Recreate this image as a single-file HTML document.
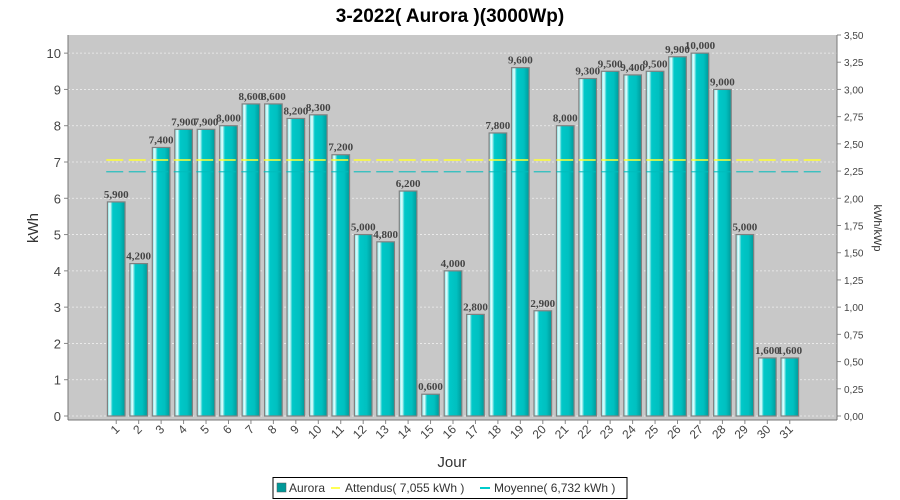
<!DOCTYPE html>
<html><head><meta charset="utf-8"><style>
body{margin:0;background:#fff;font-family:"Liberation Sans","DejaVu Sans",sans-serif}
svg{display:block}
</style></head><body>
<svg id="chart" width="900" height="500" xmlns="http://www.w3.org/2000/svg">
<defs>
<linearGradient id="bg" x1="0" x2="1" y1="0" y2="0">
<stop offset="0" stop-color="#7fe6e6"/><stop offset="0.15" stop-color="#e8ffff"/><stop offset="0.3" stop-color="#00c8c8"/><stop offset="0.7" stop-color="#00c0c0"/><stop offset="1" stop-color="#009a9a"/>
</linearGradient>
</defs>
<text x="450" y="22" text-anchor="middle" font-size="19" font-weight="bold" fill="#000">3-2022( Aurora )(3000Wp)</text>
<rect x="68" y="35" width="769" height="385" fill="#c8c8c8"/>
<g id="grid"></g>
<g id="bars"></g>
<g id="lines"></g>
<g id="axes"></g>
<text transform="translate(38,228) rotate(-90)" text-anchor="middle" font-size="15" fill="#333">kWh</text>
<text transform="translate(874,228) rotate(90)" text-anchor="middle" font-size="11" fill="#333">kWh/kWp</text>
<text x="452" y="467" text-anchor="middle" font-size="15" fill="#333">Jour</text>
<g>
<rect x="273" y="477.5" width="354" height="21" fill="#fff" stroke="#000"/>
<rect x="277" y="483" width="9" height="9" fill="#009999" stroke="#555" stroke-width="0.5"/>
<text x="289" y="492" font-size="12" fill="#333">Aurora</text>
<line x1="331" x2="340" y1="488" y2="488" stroke="#ffff55" stroke-width="2"/>
<text x="345" y="492" font-size="12" fill="#333">Attendus( 7,055 kWh )</text>
<line x1="480" x2="490" y1="488" y2="488" stroke="#00cccc" stroke-width="2"/>
<text x="494" y="492" font-size="12" fill="#333">Moyenne( 6,732 kWh )</text>
</g>
</svg>
<script>
const days=[1,2,3,4,5,6,7,8,9,10,11,12,13,14,15,16,17,18,19,20,21,22,23,24,25,26,27,28,29,30,31];
const values=[5.9,4.2,7.4,7.9,7.9,8.0,8.6,8.6,8.2,8.3,7.2,5.0,4.8,6.2,0.6,4.0,2.8,7.8,9.6,2.9,8.0,9.3,9.5,9.4,9.5,9.9,10.0,9.0,5.0,1.6,1.6];
const leftTicks=[0,1,2,3,4,5,6,7,8,9,10];
const rightTicks=[0,0.25,0.5,0.75,1,1.25,1.5,1.75,2,2.25,2.5,2.75,3,3.25,3.5];
const attendus=7.055;
const moyenne=6.732;
const NS="http://www.w3.org/2000/svg";
const L=68,R=837,T=35,B=420,Y0=416,YMAX=10.5;
const y=v=>Y0-v*(Y0-T)/YMAX;
const y2=v=>Y0-v*(Y0-T)/3.5;
const step=(R-L-73)/days.length;
const xc=i=>L+37+step*(i+0.5);
function mk(tag,attrs,parent){const e=document.createElementNS(NS,tag);for(const k in attrs)e.setAttribute(k,attrs[k]);parent.appendChild(e);return e;}
const grid=document.getElementById('grid'),bars=document.getElementById('bars'),lines=document.getElementById('lines'),axes=document.getElementById('axes');
leftTicks.forEach(t=>{const g=mk('line',{x1:L,x2:R,y1:y(t),y2:y(t),stroke:'#eee','stroke-dasharray':'2,2','stroke-width':0.8},grid);


const tk=mk('line',{x1:L-4,x2:L,y1:y(t),y2:y(t),stroke:'#888'},axes);


const tx=mk('text',{x:L-7,y:y(t)+5,'text-anchor':'end','font-size':13,fill:'#444'},axes);tx.textContent=t;

});
rightTicks.forEach(t=>{const tk=mk('line',{x1:R,x2:R+4,y1:y2(t),y2:y2(t),stroke:'#888'},axes);


const tx=mk('text',{x:R+7,y:y2(t)+4,'font-size':10,fill:'#444'},axes);tx.textContent=t.toFixed(2).replace('.',',');

});
const bw=17.6;
values.forEach((v,i)=>{const cx=xc(i);
const r=mk('rect',{x:cx-bw/2,y:y(v),width:bw,height:Y0-y(v),fill:'url(#bg)',stroke:'#808080','stroke-width':1.2},bars);


const lb=mk('text',{x:cx,y:y(v)-4,'text-anchor':'middle','font-size':11,'font-weight':'bold','font-family':'Liberation Serif,serif',fill:'#444'},bars);
lb.textContent=v.toFixed(3).replace('.',',').replace(/^(\d+),(\d)00$/,'$1,$2'+'00');
lb.textContent=(v.toFixed(1).replace('.',','))+'00';


const tk=mk('line',{x1:cx,x2:cx,y1:B,y2:B+4,stroke:'#888'},axes);


const tx=mk('text',{transform:`translate(${cx+4},${B+10}) rotate(-45)`,'text-anchor':'end','font-size':12,fill:'#444'},axes);tx.textContent=days[i];

});
const la=mk('line',{x1:xc(0)-10,x2:xc(days.length-1)+36,y1:y(attendus),y2:y(attendus),stroke:'#ffff33','stroke-width':1.5,'stroke-dasharray':'17,5.5'},lines);


const lm=mk('line',{x1:xc(0)-10,x2:xc(days.length-1)+36,y1:y(moyenne),y2:y(moyenne),stroke:'#00bbbb','stroke-width':1.2,'stroke-dasharray':'17,5.5','stroke-opacity':0.8},lines);


const ax1=mk('line',{x1:L,x2:L,y1:T,y2:B,stroke:'#777'},axes);


const ax2=mk('line',{x1:R,x2:R,y1:T,y2:B,stroke:'#777'},axes);


const ax3=mk('line',{x1:L,x2:R,y1:B,y2:B,stroke:'#777'},axes);


</script>
</body></html>
